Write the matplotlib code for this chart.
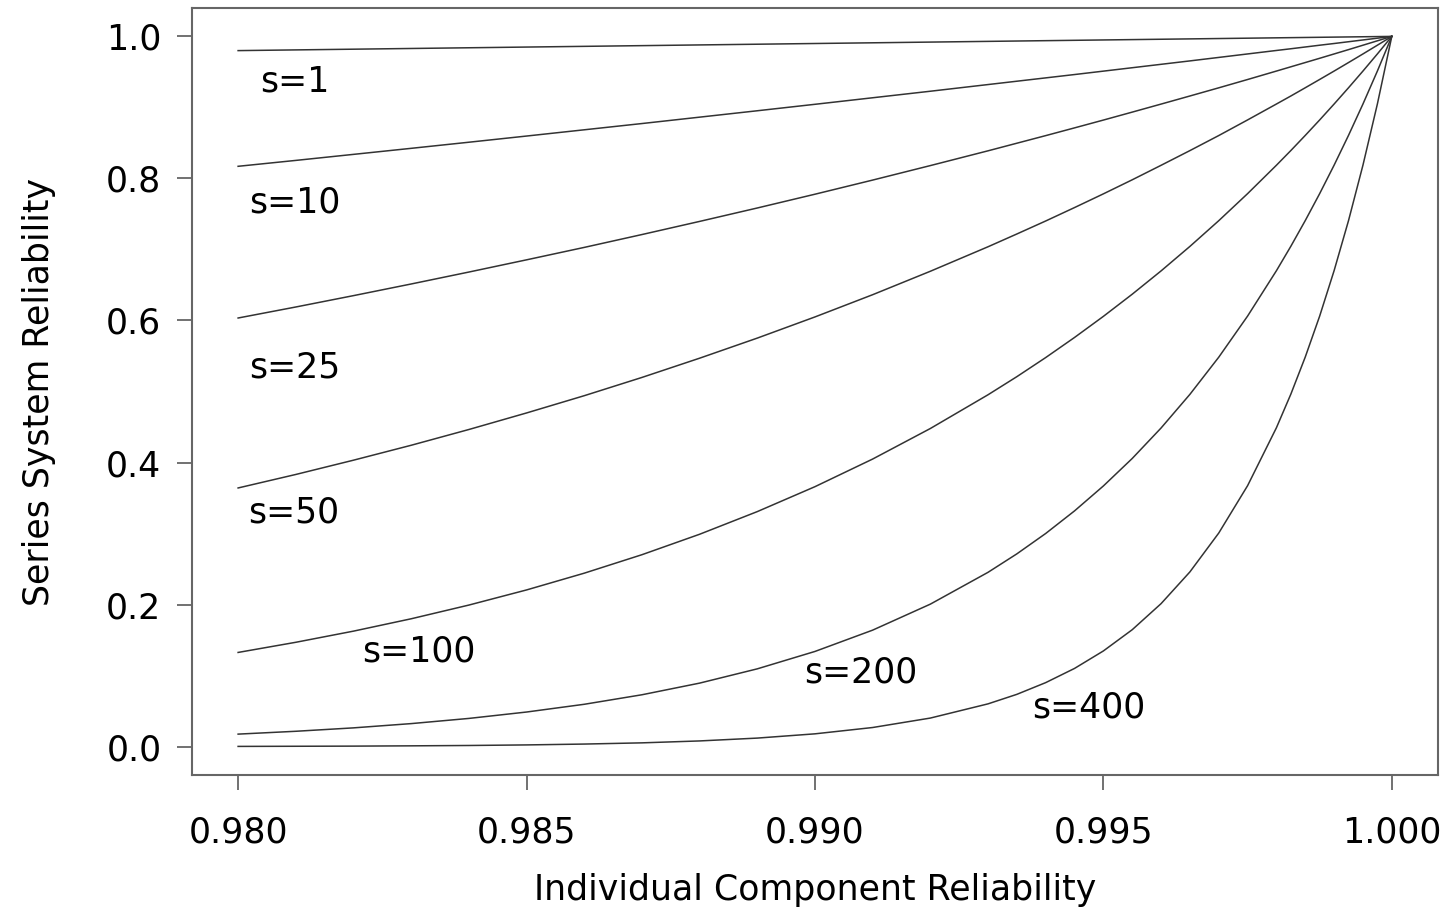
import matplotlib
matplotlib.use("Agg")
import matplotlib.pyplot as plt

plt.rcParams['font.family'] = ['DejaVu Sans']

# Individual component reliability (x) (denser near 1.0)
x_vals = [0.980, 0.981, 0.982, 0.983, 0.984, 0.985, 0.986, 0.987, 0.988, 0.989,
          0.990, 0.991, 0.992, 0.993, 0.9935, 0.994, 0.9945, 0.995, 0.9955, 0.996,
          0.9965, 0.997, 0.9975, 0.998, 0.99825, 0.9985, 0.99875, 0.999, 0.99925,
          0.9995, 0.99975, 1.000]

s1 = [0.980, 0.981, 0.982, 0.983, 0.984, 0.985, 0.986, 0.987, 0.988, 0.989,
      0.990, 0.991, 0.992, 0.993, 0.9935, 0.994, 0.9945, 0.995, 0.9955, 0.996,
      0.9965, 0.997, 0.9975, 0.998, 0.99825, 0.9985, 0.99875, 0.999, 0.99925,
      0.9995, 0.99975, 1.000]
s10 = [0.8171, 0.8254, 0.8339, 0.8424, 0.8510, 0.8597, 0.8685, 0.8773, 0.8863, 0.8953,
       0.9044, 0.9136, 0.9228, 0.9322, 0.9369, 0.9416, 0.9463, 0.9511, 0.9559, 0.9607,
       0.9655, 0.9704, 0.9753, 0.9802, 0.9826, 0.9851, 0.9876, 0.9900, 0.9925,
       0.9950, 0.9975, 1.0]
s25 = [0.6035, 0.6190, 0.6350, 0.6514, 0.6682, 0.6854, 0.7029, 0.7210, 0.7395, 0.7584,
       0.7778, 0.7977, 0.8181, 0.8389, 0.8496, 0.8603, 0.8712, 0.8822, 0.8934, 0.9047,
       0.9161, 0.9276, 0.9393, 0.9512, 0.9572, 0.9632, 0.9692, 0.9753, 0.9814,
       0.9876, 0.9938, 1.0]
s50 = [0.3642, 0.3832, 0.4033, 0.4243, 0.4465, 0.4698, 0.4941, 0.5198, 0.5469, 0.5752,
       0.6050, 0.6363, 0.6693, 0.7038, 0.7218, 0.7401, 0.7590, 0.7783, 0.7981, 0.8185,
       0.8392, 0.8604, 0.8824, 0.9048, 0.9161, 0.9277, 0.9394, 0.9512, 0.9632,
       0.9753, 0.9876, 1.0]
s100 = [0.1326, 0.1469, 0.1626, 0.1800, 0.1993, 0.2206, 0.2442, 0.2702, 0.2990, 0.3309,
        0.3660, 0.4049, 0.4479, 0.4954, 0.5209, 0.5478, 0.5761, 0.6058, 0.6370, 0.6698,
        0.7043, 0.7405, 0.7786, 0.8186, 0.8393, 0.8606, 0.8824, 0.9048, 0.9277,
        0.9512, 0.9753, 1.0]
s200 = [0.0176, 0.0216, 0.0264, 0.0324, 0.0397, 0.0487, 0.0596, 0.0730, 0.0894, 0.1095,
        0.1340, 0.1640, 0.2006, 0.2454, 0.2714, 0.3001, 0.3319, 0.3670, 0.4057, 0.4486,
        0.4960, 0.5483, 0.6062, 0.6701, 0.7045, 0.7407, 0.7787, 0.8187, 0.8607,
        0.9048, 0.9512, 1.0]
s400 = [0.0003, 0.0005, 0.0007, 0.0011, 0.0016, 0.0024, 0.0036, 0.0053, 0.0080, 0.0120,
        0.0180, 0.0269, 0.0402, 0.0602, 0.0736, 0.0901, 0.1101, 0.1347, 0.1646, 0.2013,
        0.2460, 0.3007, 0.3674, 0.4490, 0.4963, 0.5486, 0.6063, 0.6702, 0.7407,
        0.8187, 0.9048, 1.0]

series = [s1, s10, s25, s50, s100, s200, s400]

# Curve labels and their positions
label_texts = ["s=1", "s=10", "s=25", "s=50", "s=100", "s=200", "s=400"]
label_x = [0.98099, 0.98099, 0.98099, 0.98097, 0.98313, 0.99079, 0.99474]
label_y = [0.9225, 0.752, 0.520, 0.315, 0.120, 0.090, 0.041]

x_ticks = [0.980, 0.985, 0.990, 0.995, 1.000]
x_ticklabels = ["0.980", "0.985", "0.990", "0.995", "1.000"]
y_ticks = [0.0, 0.2, 0.4, 0.6, 0.8, 1.0]
y_ticklabels = ["0.0", "0.2", "0.4", "0.6", "0.8", "1.0"]

fig = plt.figure(figsize=(14.51, 9.16), dpi=100)
ax = fig.add_axes([0.1323, 0.1539, 0.9910 - 0.1323, 0.99127 - 0.1539])

for ys in series:
    ax.plot(x_vals, ys, color='#333333', linewidth=1.1)

for t, lx, ly in zip(label_texts, label_x, label_y):
    ax.text(lx, ly, t, ha='center', va='baseline', fontsize=25, color='black')

ax.set_xlim(0.98 - 0.0008, 1.0 + 0.0008)
ax.set_ylim(-0.04, 1.04)

ax.set_xticks(x_ticks)
ax.set_xticklabels(x_ticklabels)
ax.set_yticks(y_ticks)
ax.set_yticklabels(y_ticklabels)

for sp in ax.spines.values():
    sp.set_color('#666666')
    sp.set_linewidth(1.5)

ax.tick_params(axis='both', direction='out', length=11, width=1.3, color='#666666',
               labelsize=25, labelcolor='black')
ax.tick_params(axis='x', pad=18)
ax.tick_params(axis='y', pad=11)

ax.set_xlabel("Individual Component Reliability", fontsize=25, labelpad=17)
ax.set_ylabel("Series System Reliability", fontsize=25, labelpad=36)

fig.savefig("out.png", dpi=100)
